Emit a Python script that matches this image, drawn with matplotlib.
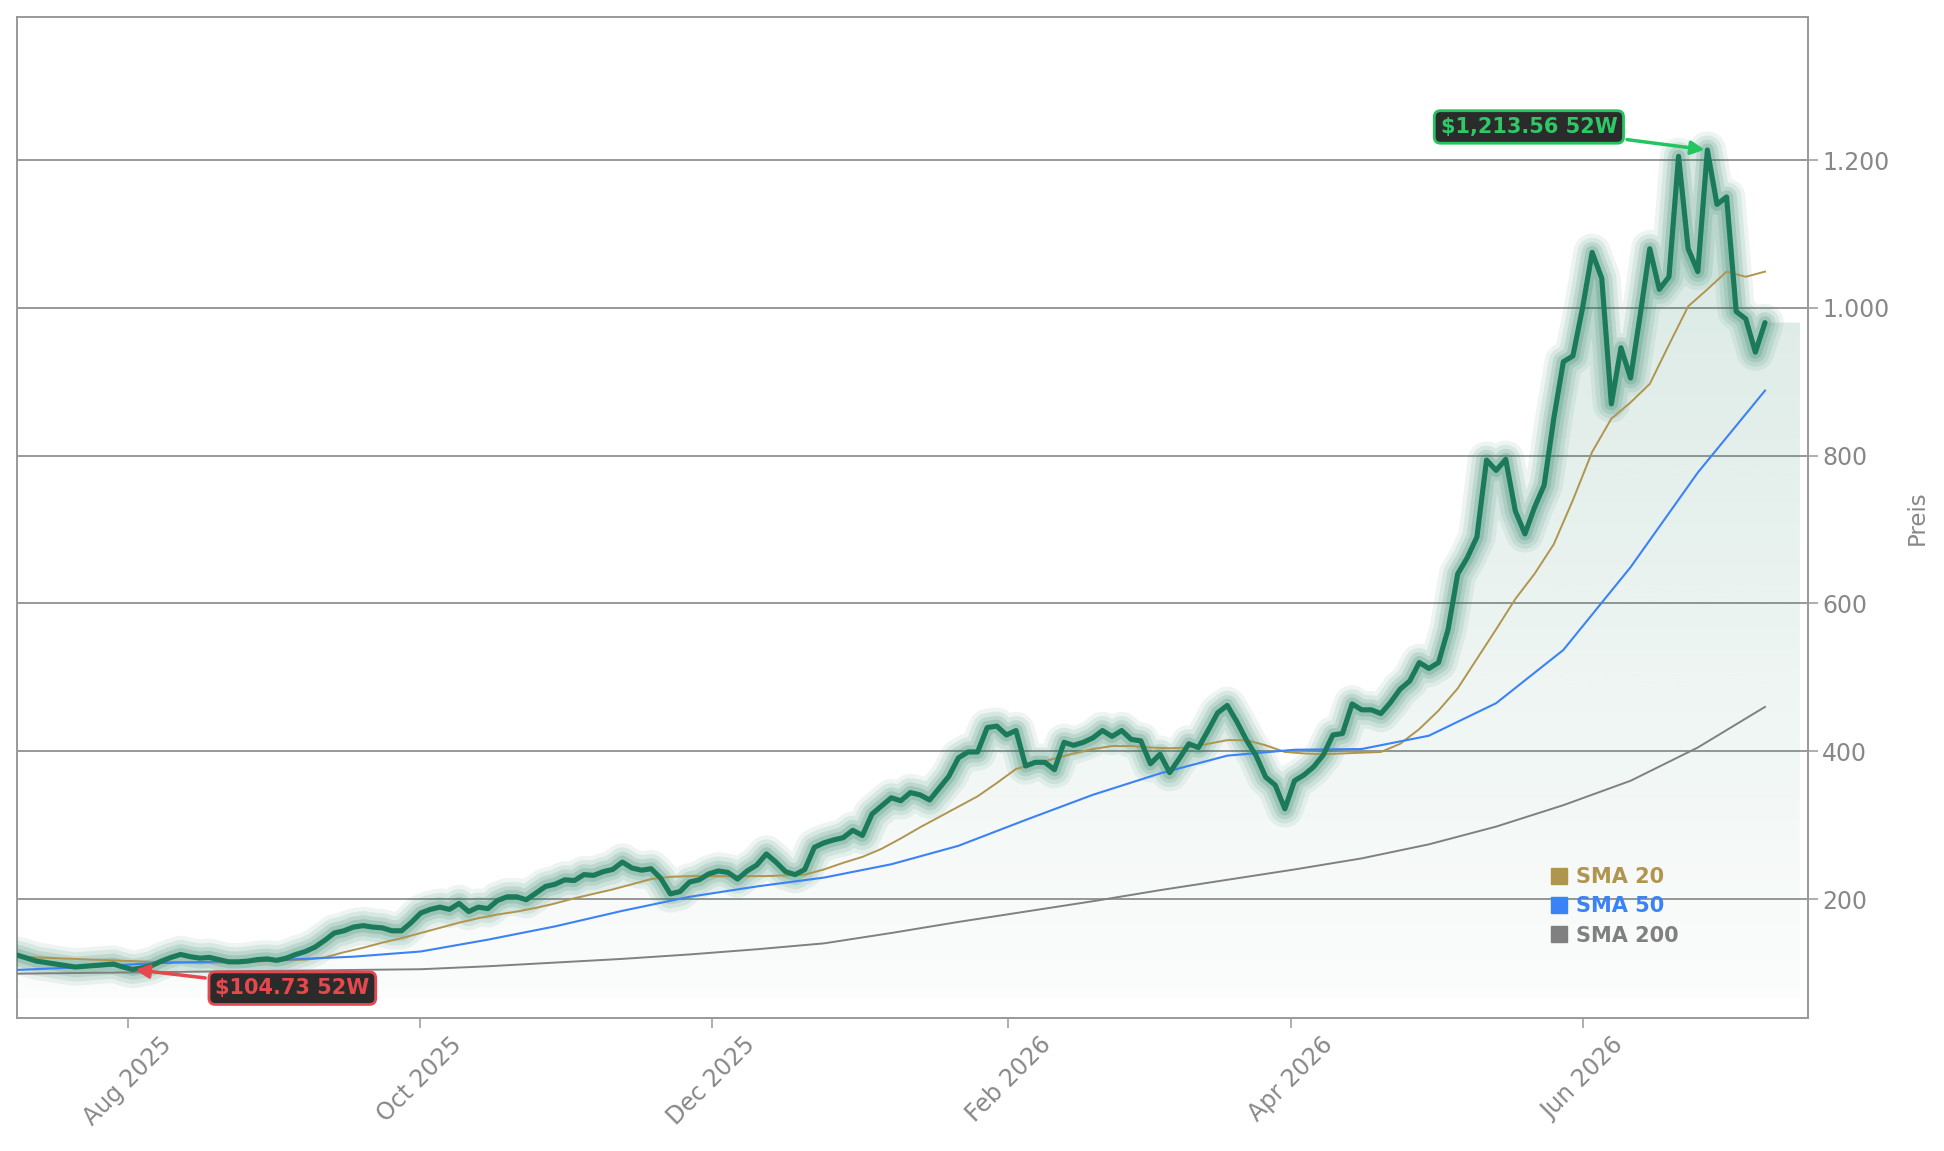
import numpy as np
import pandas as pd
import matplotlib
matplotlib.use('Agg')
import matplotlib.pyplot as plt
import matplotlib.dates as mdates
from matplotlib.ticker import FuncFormatter, FixedLocator
from matplotlib.lines import Line2D
from matplotlib.patches import Polygon
from matplotlib.colors import to_rgb

# --- data ---
dates = pd.date_range('2025-07-09', '2026-07-09', periods=183)

close = [124, 120, 116, 114, 112, 110, 108, 109, 110, 111,
         112, 108, 104.73, 107, 110, 116, 121, 125, 122, 120,
         121, 118, 115, 115, 116, 118, 119, 117, 120, 125,
         129, 135, 144, 154, 157, 162, 164, 162, 161, 157,
         157, 168, 181, 186, 189, 186, 194, 183, 189, 187,
         198, 203, 203, 199, 208, 217, 220, 226, 225, 233,
         232, 237, 240, 250, 242, 239, 241, 228, 207, 210,
         223, 226, 234, 238, 236, 227, 238, 246, 261, 250,
         237, 233, 240, 270, 276, 280, 283, 293, 286, 315,
         326, 337, 333, 344, 341, 334, 350, 366, 391, 399,
         399, 432, 434, 422, 428, 380, 385, 385, 375, 412,
         408, 412, 418, 428, 420, 428, 416, 414, 383, 396,
         371, 390, 410, 405, 428, 452, 462, 440, 415, 394,
         365, 354, 322, 360, 368, 379, 395, 422, 424, 464,
         456, 456, 451, 466, 484, 495, 520, 512, 520, 565,
         640, 662, 690, 794, 780, 795, 725, 694, 730, 760,
         850, 927, 935, 1000, 1075, 1040, 870, 946, 905, 990,
         1080, 1025, 1042, 1205, 1080, 1049, 1213.56, 1140, 1150, 995,
         985, 940, 980]

# SMA 20 sampled every 2nd date
sma20 = [122, 121, 120, 119, 118, 117, 116, 115, 115, 114,
         114, 114, 115, 116, 117, 118, 121, 128, 134, 141,
         147, 154, 161, 168, 174, 179, 183, 188, 194, 201,
         207, 213, 220, 227, 230, 231, 231, 231, 231, 231,
         232, 233, 240, 249, 257, 268, 282, 297, 311, 325,
         339, 357, 376, 383, 390, 397, 403, 407, 407, 405,
         404, 405, 410, 415, 415, 408, 399, 397, 396, 397,
         398, 399, 410, 430, 455, 485, 525, 565, 606, 640,
         680, 740, 805, 850, 872, 897, 950, 1002, 1025, 1049,
         1042, 1049]

# SMA 50 / SMA 200 sampled every 7th date
sma50 = [104, 108, 113, 115.5, 118, 122, 129, 145, 163, 184,
         203, 217, 229, 247, 272, 307, 341, 370, 394, 402,
         403, 421, 465, 537, 649, 777, 888]
sma200 = [99, 100, 101, 102, 103, 104, 105, 109, 114, 119,
          125, 132, 140, 154, 169, 183, 197, 212, 226, 240,
          255, 274, 298, 327, 360, 405, 460]

high_idx = int(np.argmax(close))
low_idx = int(np.argmin(close))

green = '#1b7a5a'
gold = '#b0954e'
blue = '#3b82f6'
grey = '#808080'
txt_grey = '#888888'

fig = plt.figure(figsize=(19.44, 11.51), dpi=100)
ax = fig.add_axes([17.4 / 1944, 1 - 1018 / 1151, 1790.2 / 1944, 1000.6 / 1151])

# glow around the price line
for lw, a in [(27, 0.08), (21, 0.10), (15, 0.13), (9.5, 0.18)]:
    ax.plot(dates, close, color=green, lw=lw, alpha=a,
            solid_capstyle='round', solid_joinstyle='round', zorder=3)

ax.plot(dates[::2], sma20, color=gold, lw=1.4, zorder=4)
ax.plot(dates[::7], sma50, color=blue, lw=1.5, zorder=4)
ax.plot(dates[::7], sma200, color=grey, lw=1.4, zorder=4)

ax.plot(dates, close, color=green, lw=3.7, zorder=5,
        solid_capstyle='round', solid_joinstyle='round')

# gradient fill under the price
xnum = mdates.date2num(dates)
fill_end = xnum[-1] + 7.3
floor = 66
verts = [(xnum[0], floor)] + list(zip(xnum, close)) + [(fill_end, close[-1]), (fill_end, floor)]
poly = Polygon(verts, closed=True, fc='none', ec='none')
ax.add_patch(poly)
grad = np.zeros((256, 1, 4))
grad[..., :3] = to_rgb(green)
grad[:, 0, 3] = np.linspace(0.018, 0.175, 256)
im = ax.imshow(grad, extent=[xnum[0], fill_end, floor, max(close)],
               origin='lower', aspect='auto', zorder=1, interpolation='bilinear')
im.set_clip_path(poly)

ax.set_xlim(xnum[0], xnum[-1] + 8.9)
ax.set_ylim(39, 1393)

# axes styling
ax.yaxis.tick_right()
ax.yaxis.set_label_position('right')
ax.yaxis.set_major_locator(FixedLocator([200, 400, 600, 800, 1000, 1200]))
ax.yaxis.set_major_formatter(FuncFormatter(lambda v, p: f'{v:,.0f}'.replace(',', '.')))
ax.xaxis.set_major_locator(mdates.MonthLocator(bymonth=[2, 4, 6, 8, 10, 12]))
ax.xaxis.set_major_formatter(mdates.DateFormatter('%b %Y'))
plt.setp(ax.get_xticklabels(), rotation=45)
ax.tick_params(axis='both', colors='#999999', labelcolor=txt_grey, labelsize=17,
               length=7, width=1.1)
ax.set_ylabel('Preis', fontsize=16.5, color=txt_grey, labelpad=12)
ax.yaxis.grid(True, color='#999999', lw=1.4, zorder=0)
ax.set_axisbelow(True)
for s in ax.spines.values():
    s.set_color('#999999')
    s.set_linewidth(1.4)

# 52 week high / low
ax.annotate(f'${close[high_idx]:,.2f} 52W', xy=(dates[high_idx], close[high_idx]),
            xytext=(-128.5, 16.6), textcoords='offset points', ha='center', va='center',
            fontsize=15, fontweight='bold', color='#2ec866', zorder=10,
            bbox=dict(boxstyle='round,pad=0.3', fc='#2b2b2b', ec='#22c55e', lw=2),
            arrowprops=dict(arrowstyle='-|>', color='#22c55e', lw=2.5, mutation_scale=20))
ax.annotate(f'${close[low_idx]:,.2f} 52W', xy=(dates[low_idx], close[low_idx]),
            xytext=(115, -13.5), textcoords='offset points', ha='center', va='center',
            fontsize=15, fontweight='bold', color='#e5484d', zorder=10,
            bbox=dict(boxstyle='round,pad=0.3', fc='#2b2b2b', ec='#e5484d', lw=2),
            arrowprops=dict(arrowstyle='-|>', color='#e5484d', lw=2.5, mutation_scale=20))

handles = [Line2D([], [], marker='s', ls='', color=c, markersize=12) for c in [gold, blue, grey]]
ax.legend(handles, ['SMA 20', 'SMA 50', 'SMA 200'], loc='upper left',
          bbox_to_anchor=(0.853, 0.159), borderaxespad=0, frameon=False,
          prop={'weight': 'bold', 'size': 15}, labelcolor=[gold, blue, grey],
          handlelength=0.6, handletextpad=0.5, labelspacing=0.44)

fig.savefig('out.png', dpi=100, facecolor='white')
